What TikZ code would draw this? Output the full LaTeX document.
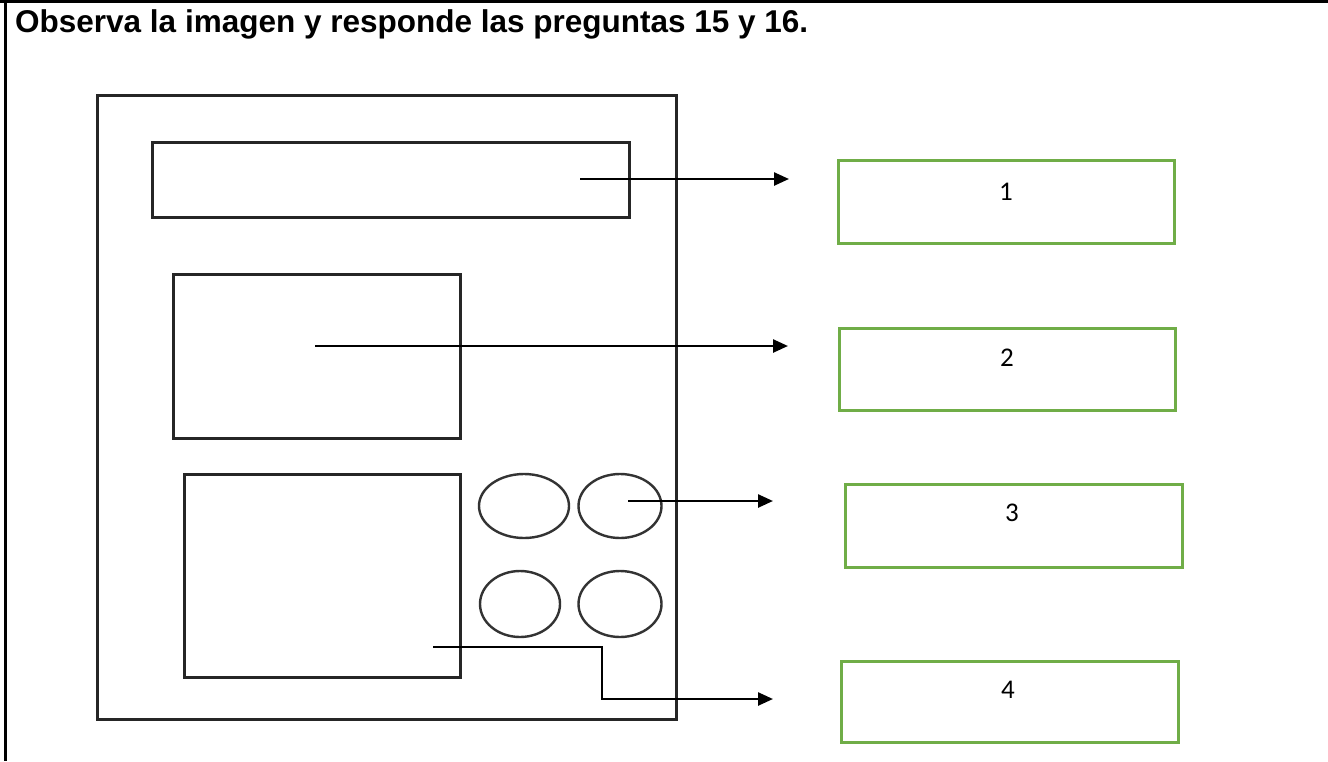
\documentclass[tikz,border=0pt]{standalone}
\usepackage{fontspec}
\setmainfont{Liberation Sans}
\newfontfamily\numfont{Carlito}
\usetikzlibrary{shapes.geometric,arrows.meta}
\definecolor{boxgreen}{RGB}{112,173,71}
\tikzset{
  frame/.style={draw=black!85, line width=2.6pt, inner sep=0pt, anchor=north west},
  oval/.style={draw=black!80, line width=2.4pt, ellipse, inner sep=0pt},
  greenbox/.style={draw=boxgreen, line width=3pt, inner sep=0pt, anchor=north west},
  numlabel/.style={font=\numfont\fontsize{27}{30}\selectfont, inner sep=0pt},
  arr/.style={line width=2.5pt, -{Triangle[length=15pt,width=13pt]}},
}
\begin{document}
\begin{tikzpicture}[x=1pt,y=-1pt]
\useasboundingbox (0,0) rectangle (1328,761);
\fill[white] (0,0) rectangle (1328,761);
% page borders
\draw[line width=3pt] (0,1.5) -- (1328,1.5);
\draw[line width=3pt] (5,0) -- (5,761);
% title
\node[anchor=base west, inner sep=0pt, font=\bfseries\fontsize{31.5}{34}\selectfont] (title) at (15,32) {Observa la imagen y responde las preguntas 15 y 16.};
% outer frame and inner parts
\node[frame, minimum width=579pt, minimum height=624pt] (outer) at (96,94) {};
\node[frame, minimum width=477pt, minimum height=75pt] (top) at (151,141) {};
\node[frame, minimum width=287pt, minimum height=164pt] (mid) at (172,273) {};
\node[frame, minimum width=276pt, minimum height=203pt] (low) at (183,473) {};
\node[oval, minimum width=90pt, minimum height=64pt] (o1) at (524,506) {};
\node[oval, minimum width=83pt, minimum height=64pt] (o2) at (620,506) {};
\node[oval, minimum width=80pt, minimum height=66pt] (o3) at (520,604) {};
\node[oval, minimum width=83pt, minimum height=66pt] (o4) at (620,604) {};
% green boxes
\node[greenbox, minimum width=336pt, minimum height=83pt] (b1) at (837,159) {};
\node[greenbox, minimum width=336pt, minimum height=82pt] (b2) at (838,327) {};
\node[greenbox, minimum width=337pt, minimum height=83pt] (b3) at (844,483) {};
\node[greenbox, minimum width=337pt, minimum height=81pt] (b4) at (840,660) {};
\node[numlabel] (l1) at (1006,192) {1};
\node[numlabel] (l2) at (1007,358) {2};
\node[numlabel] (l3) at (1012,513) {3};
\node[numlabel] (l4) at (1008,690) {4};
% arrow coordinates
\coordinate (s1) at (580,179);
\coordinate (e1) at (789,179);
\coordinate (s2) at (315,346);
\coordinate (e2) at (788,346);
\coordinate (s3) at (628,501);
\coordinate (e3) at (773,501);
\coordinate (s4) at (433,647);
\coordinate (k4) at (602,699);
\coordinate (e4) at (773,699);
\draw[arr] (s1) -- (e1);
\draw[arr] (s2) -- (e2);
\draw[arr] (s3) -- (e3);
\draw[arr] (s4) -| (k4) -- (e4);
\end{tikzpicture}
\end{document}
